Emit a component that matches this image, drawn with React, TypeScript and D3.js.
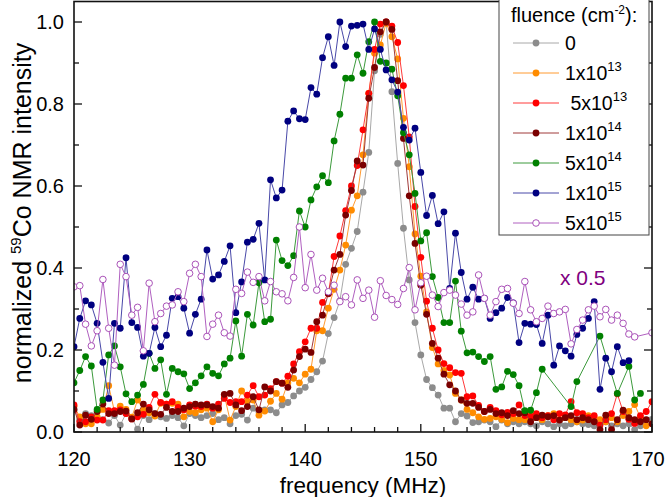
import * as d3 from 'd3';

// frequency grid (MHz)
const FREQ = [
  120, 120.5, 121, 121.5, 122, 122.5, 123, 123.5, 124, 124.5,
  125, 125.5, 126, 126.5, 127, 127.5, 128, 128.5, 129, 129.5,
  130, 130.5, 131, 131.5, 132, 132.5, 133, 133.5, 134, 134.5,
  135, 135.5, 136, 136.5, 137, 137.5, 138, 138.5, 139, 139.5,
  140, 140.5, 141, 141.5, 142, 142.5, 143, 143.5, 144, 144.5,
  145, 145.5, 146, 146.5, 147, 147.5, 148, 148.5, 149, 149.5,
  150, 150.5, 151, 151.5, 152, 152.5, 153, 153.5, 154, 154.5,
  155, 155.5, 156, 156.5, 157, 157.5, 158, 158.5, 159, 159.5,
  160, 160.5, 161, 161.5, 162, 162.5, 163, 163.5, 164, 164.5,
  165, 165.5, 166, 166.5, 167, 167.5, 168, 168.5, 169, 169.5,
  170,
];

const F_0 = [
  0.054, 0.03, 0.045, 0.04, 0.035, 0.03, 0.022, 0.04, 0.017, 0.045,
  0.035, 0.007, 0.04, 0.03, 0.045, 0.037, 0.033, 0.04, 0.035, 0.015,
  0.045, 0.04, 0.035, 0.04, 0.045, 0.03, 0.035, 0.02, 0.04, 0.043,
  0.029, 0.058, 0.05, 0.054, 0.054, 0.047, 0.066, 0.072, 0.088, 0.1,
  0.109, 0.128, 0.147, 0.173, 0.24, 0.279, 0.32, 0.409, 0.448, 0.489,
  0.585, 0.682, 0.881, 0.97, 1.0, 0.83, 0.655, 0.497, 0.371, 0.267,
  0.188, 0.128, 0.108, 0.09, 0.058, 0.058, 0.025, 0.045, 0.039, 0.023,
  0.025, 0.029, 0.025, 0.013, 0.029, 0.02, 0.025, 0.02, 0.025, 0.02,
  0.015, 0.025, 0.02, 0.013, 0.02, 0.015, 0.02, 0.025, 0.02, 0.018,
  0.015, 0.02, 0.025, 0.015, 0.02, 0.015, 0.02, 0.006, 0.015, 0.029,
  0.031,
];

const F_1E13 = [
  0.063, 0.037, 0.02, 0.02, 0.037, 0.055, 0.113, 0.05, 0.063, 0.055,
  0.036, 0.078, 0.054, 0.047, 0.039, 0.07, 0.068, 0.07, 0.068, 0.037,
  0.05, 0.047, 0.054, 0.058, 0.025, 0.054, 0.09, 0.029, 0.062, 0.1,
  0.075, 0.078, 0.041, 0.051, 0.075, 0.094, 0.08, 0.12, 0.131, 0.12,
  0.141, 0.153, 0.247, 0.247, 0.302, 0.348, 0.395, 0.456, 0.541, 0.576,
  0.676, 0.826, 0.924, 0.944, 0.997, 0.964, 0.91, 0.765, 0.647, 0.483,
  0.38, 0.293, 0.206, 0.166, 0.15, 0.139, 0.094, 0.078, 0.055, 0.047,
  0.037, 0.031, 0.033, 0.037, 0.031, 0.023, 0.033, 0.03, 0.03, 0.04,
  0.035, 0.03, 0.04, 0.045, 0.03, 0.035, 0.03, 0.025, 0.029, 0.04,
  0.035, 0.03, 0.025, 0.035, 0.025, 0.04, 0.05, 0.067, 0.035, 0.015,
  0.02,
];

const F_5E13 = [
  0.066, 0.025, 0.025, 0.037, 0.029, 0.029, 0.052, 0.052, 0.054, 0.045,
  0.032, 0.037, 0.043, 0.06, 0.092, 0.072, 0.068, 0.074, 0.06, 0.054,
  0.066, 0.063, 0.062, 0.068, 0.058, 0.068, 0.082, 0.072, 0.074, 0.074,
  0.09, 0.113, 0.086, 0.09, 0.106, 0.123, 0.119, 0.136, 0.166, 0.196,
  0.22, 0.253, 0.253, 0.316, 0.337, 0.428, 0.478, 0.54, 0.6, 0.65,
  0.737, 0.826, 0.933, 0.995, 1.0, 0.99, 0.95, 0.845, 0.72, 0.55,
  0.426, 0.319, 0.253, 0.2, 0.167, 0.157, 0.145, 0.143, 0.086, 0.088,
  0.065, 0.05, 0.06, 0.052, 0.042, 0.048, 0.045, 0.066, 0.04, 0.038,
  0.045, 0.035, 0.04, 0.03, 0.045, 0.042, 0.074, 0.047, 0.045, 0.035,
  0.04, 0.017, 0.03, 0.045, 0.093, 0.05, 0.031, 0.021, 0.04, 0.05,
  0.074,
];

const F_1E14 = [
  0.055, 0.017, 0.041, 0.031, 0.05, 0.068, 0.045, 0.045, 0.05, 0.051,
  0.032, 0.047, 0.068, 0.054, 0.045, 0.043, 0.06, 0.05, 0.05, 0.058,
  0.062, 0.068, 0.066, 0.066, 0.062, 0.058, 0.092, 0.094, 0.066, 0.052,
  0.062, 0.086, 0.054, 0.11, 0.1, 0.123, 0.119, 0.109, 0.151, 0.184,
  0.202, 0.194, 0.269, 0.285, 0.338, 0.395, 0.433, 0.529, 0.589, 0.661,
  0.651, 0.814, 0.889, 0.976, 1.0, 0.982, 0.857, 0.716, 0.576, 0.46,
  0.358, 0.287, 0.216, 0.18, 0.141, 0.115, 0.1, 0.078, 0.07, 0.07,
  0.06, 0.05, 0.055, 0.045, 0.047, 0.04, 0.052, 0.045, 0.047, 0.025,
  0.035, 0.041, 0.037, 0.04, 0.029, 0.035, 0.04, 0.03, 0.035, 0.03,
  0.025, 0.006, 0.041, 0.006, 0.03, 0.053, 0.035, 0.03, 0.025, 0.03,
  0.02,
];

const F_5E14 = [
  0.12, 0.15, 0.184, 0.161, 0.055, 0.078, 0.188, 0.21, 0.159, 0.093,
  0.074, 0.09, 0.116, 0.192, 0.155, 0.176, 0.092, 0.155, 0.147, 0.142,
  0.106, 0.12, 0.137, 0.159, 0.143, 0.137, 0.166, 0.18, 0.271, 0.185,
  0.287, 0.261, 0.364, 0.269, 0.275, 0.468, 0.418, 0.406, 0.43, 0.539,
  0.5, 0.566, 0.598, 0.625, 0.608, 0.71, 0.775, 0.863, 0.863, 0.92,
  0.875, 0.952, 1.0, 0.904, 0.9, 0.885, 0.82, 0.73, 0.676, 0.582,
  0.466, 0.486, 0.379, 0.328, 0.267, 0.267, 0.368, 0.246, 0.193, 0.195,
  0.184, 0.172, 0.184, 0.104, 0.11, 0.148, 0.14, 0.113, 0.052, 0.053,
  0.096, 0.153, null, null, null, null, 0.062, 0.123, null, null,
  null, 0.234, null, null, 0.094, null, 0.16, 0.078, 0.094, null,
  null,
];

const F_1E15 = [
  0.208, 0.277, 0.32, 0.31, 0.265, 0.17, 0.082, 0.265, 0.253, 0.425,
  0.267, 0.255, 0.185, 0.192, 0.255, 0.208, 0.236, 0.326, 0.33, 0.302,
  0.241, 0.287, 0.324, 0.444, 0.373, 0.383, 0.416, 0.454, 0.291, 0.366,
  0.463, 0.47, 0.509, 0.371, 0.615, 0.571, 0.59, 0.758, 0.783, 0.764,
  0.762, 0.84, 0.824, 0.913, 0.964, 0.894, 1.0, 0.94, 0.99, 0.992,
  0.995, 0.933, 0.983, 0.933, 0.883, 0.859, 0.829, 0.743, 0.712, 0.741,
  0.633, 0.528, 0.577, 0.508, 0.537, 0.35, 0.485, 0.389, 0.324, 0.353,
  0.324, 0.326, 0.277, 0.291, 0.302, 0.328, 0.315, 0.218, 0.265, 0.263,
  0.262, 0.216, 0.285, 0.163, 0.21, 0.198, 0.185, 0.238, 0.253, 0.277,
  0.318, 0.104, 0.18, 0.147, 0.208, 0.169, 0.174, null, null, null,
  null,
];

// plotted as measured x 0.5
const F_5E15 = [
  0.354, 0.357, 0.263, 0.21, 0.247, 0.372, 0.253, 0.163, 0.409, 0.379,
  0.285, 0.304, 0.198, 0.363, 0.269, 0.289, 0.307, 0.31, 0.342, 0.318,
  0.387, 0.409, 0.379, 0.233, 0.263, 0.285, 0.242, 0.234, 0.348, 0.338,
  0.39, 0.365, 0.379, 0.32, 0.367, 0.342, 0.337, 0.32, 0.377, 0.5,
  0.352, 0.433, 0.346, 0.375, 0.342, 0.358, 0.318, 0.33, 0.31, 0.371,
  0.326, 0.346, 0.28, 0.369, 0.333, 0.323, 0.311, 0.35, 0.401, 0.298,
  0.364, 0.38, 0.334, 0.306, 0.34, 0.346, 0.334, 0.312, 0.285, 0.293,
  0.383, 0.326, 0.285, 0.318, 0.348, 0.35, 0.314, 0.289, 0.367, 0.298,
  0.269, 0.277, 0.307, 0.289, 0.293, 0.299, 0.215, 0.25, 0.273, 0.298,
  0.307, 0.281, 0.299, 0.273, 0.285, 0.265, 0.239, 0.232, null, null,
  0.242,
];

const LEGEND_BASE = ['0', '1x10', ' 5x10', '1x10', '5x10', '1x10', '5x10'];
const LEGEND_EXP = ['', '13', '13', '14', '14', '15', '15'];
const DOT_COLORS = ['#8c8c8c', '#ff8c00', '#ff0000', '#7a0000', '#008000', '#000080', '#a040b0'];
const LINE_COLORS = ['#a8a8a8', '#ff9a30', '#ff3a3a', '#a03a3a', '#3c9a3c', '#4848a8', '#b060c0'];
const SERIES_VALUES = [F_0, F_1E13, F_5E13, F_1E14, F_5E14, F_1E15, F_5E15];

const Y_TICKS = [0, 0.2, 0.4, 0.6, 0.8, 1.0];
const X_TICKS = [120, 130, 140, 150, 160, 170];

const W = 666;
const H = 497;
const FONT = '"Liberation Sans", Arial, sans-serif';

export default function App() {
  const x = d3.scaleLinear().domain([120, 170]).range([74, 652]);
  const y = d3.scaleLinear().domain([0, 1.05]).range([432, 1.5]);

  const series = SERIES_VALUES.map((vals, k) => ({
    pts: FREQ.map((f, i) => ({ f, v: vals[i] })).filter((d) => d.v !== null) as { f: number; v: number }[],
    dot: DOT_COLORS[k],
    line: LINE_COLORS[k],
    open: k === 6,
  }));

  const line = d3.line<{ f: number; v: number }>().x((d) => x(d.f)).y((d) => y(d.v));

  const yMinor = d3.range(0, 1.05, 0.1).map((v) => +v.toFixed(2));
  const xMinor = d3.range(120, 170.1, 2);
  const [x0, x1] = x.range();
  const [yb, yt] = y.range();

  return (
    <svg width={W} height={H} style={{ position: 'absolute', left: 0, top: 0, background: '#fff' }} fontFamily={FONT}>
      <defs>
        <clipPath id="plot">
          <rect x={x0} y={yt} width={x1 - x0} height={yb - yt} />
        </clipPath>
      </defs>

      <g clipPath="url(#plot)">
        {series.map((s, k) => (
          <g key={k}>
            <path d={line(s.pts) ?? ''} fill="none" stroke={s.line} strokeWidth={1} />
            {s.pts.map((d, i) => (
              <circle
                key={i}
                cx={x(d.f)}
                cy={y(d.v)}
                r={s.open ? 3.3 : 3.4}
                fill={s.open ? '#fff' : s.dot}
                stroke={s.open ? s.dot : 'none'}
                strokeWidth={0.9}
              />
            ))}
          </g>
        ))}
      </g>

      {/* frame */}
      <rect x={x0} y={yt} width={x1 - x0} height={yb - yt} fill="none" stroke="#111" strokeWidth={1.6} />

      {/* y ticks left and right */}
      {yMinor.map((v) => {
        const major = Math.abs((v * 10) % 2) < 0.01;
        const len = major ? 8 : 5;
        return (
          <g key={v} stroke="#111" strokeWidth={1.3}>
            <line x1={x0} x2={x0 + len} y1={y(v)} y2={y(v)} />
            <line x1={x1} x2={x1 - len} y1={y(v)} y2={y(v)} />
          </g>
        );
      })}
      {/* x ticks */}
      {xMinor.map((f) => {
        const major = f % 10 === 0;
        const len = major ? 8 : 5;
        return <line key={f} x1={x(f)} x2={x(f)} y1={yb} y2={yb - len} stroke="#111" strokeWidth={1.3} />;
      })}

      {Y_TICKS.map((v) => (
        <text key={v} x={64} y={y(v) + 7} textAnchor="end" fontSize={20}>
          {d3.format('.1f')(v)}
        </text>
      ))}
      {X_TICKS.map((f) => (
        <text key={f} x={Math.min(x(f), 648)} y={466} textAnchor="middle" fontSize={20}>
          {f}
        </text>
      ))}

      <text x={(x0 + x1) / 2} y={493} textAnchor="middle" fontSize={22.5}>
        frequency (MHz)
      </text>
      <text transform={`translate(31,213) rotate(-90)`} textAnchor="middle" fontSize={25}>
        normalized <tspan dy={-10} fontSize={15}>59</tspan>
        <tspan dy={10}>Co NMR intensity</tspan>
      </text>

      <text x={560} y={285} fontSize={21} fill="#800080">
        x 0.5
      </text>

      {/* legend */}
      <g>
        <rect x={499} y={-1} width={150} height={236} fill="#fff" stroke="#444" strokeWidth={1} />
        <text x={511} y={22} fontSize={20}>
          fluence (cm<tspan dy={-8} fontSize={12}>-2</tspan>
          <tspan dy={8}>):</tspan>
        </text>
        {LEGEND_BASE.map((label, k) => {
          const cy = 43 + k * 30;
          const open = k === 6;
          return (
            <g key={k}>
              <line x1={513} x2={559} y1={cy} y2={cy} stroke={LINE_COLORS[k]} strokeWidth={1} />
              <circle
                cx={536}
                cy={cy}
                r={open ? 3.3 : 3.4}
                fill={open ? '#fff' : DOT_COLORS[k]}
                stroke={open ? DOT_COLORS[k] : 'none'}
                strokeWidth={0.9}
              />
              <text x={565} y={cy + 7} fontSize={19.5} xmlSpace="preserve">
                {label}
                {LEGEND_EXP[k] && (
                  <tspan dy={-9} fontSize={13}>
                    {LEGEND_EXP[k]}
                  </tspan>
                )}
              </text>
            </g>
          );
        })}
      </g>
    </svg>
  );
}
